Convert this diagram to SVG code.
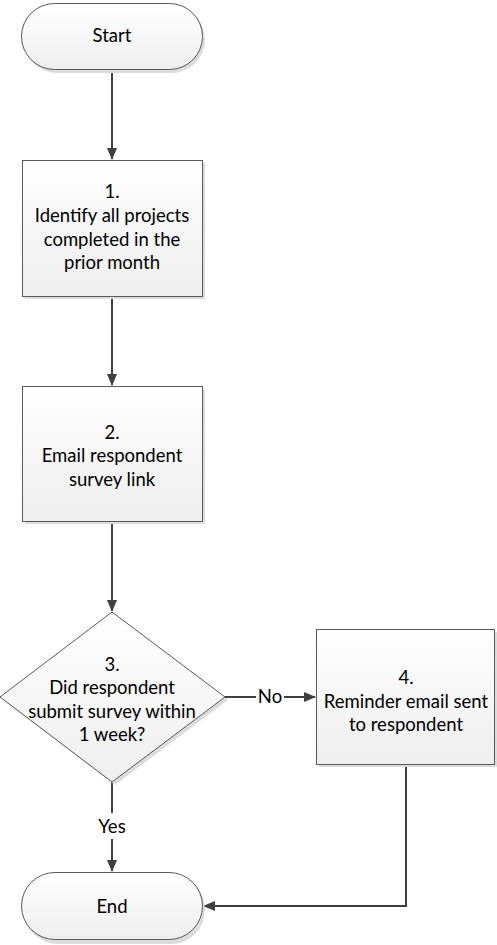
<svg xmlns="http://www.w3.org/2000/svg" width="497" height="945" viewBox="0 0 497 945">
<style>
.shape{fill:url(#g);stroke:#595959;stroke-width:1}
.shadow{fill:#dcdcdc;stroke:none}
.t{font-family:Lato,"Liberation Sans",sans-serif;font-size:18.5px;fill:#000;text-anchor:middle}
.c{fill:none;stroke:#404040;stroke-width:2}
</style>
<defs>
<linearGradient id="g" x1="0" y1="0" x2="0" y2="1">
<stop offset="0" stop-color="#ffffff"/>
<stop offset="1" stop-color="#eeeeee"/>
</linearGradient>
<marker id="a" markerWidth="12" markerHeight="10" refX="11" refY="5" orient="auto" markerUnits="userSpaceOnUse">
<path d="M0,0 L12,5 L0,10 Z" fill="#404040"/>
</marker>
</defs>
<g id="connectors">
<path class="c" d="M112,70 V159" marker-end="url(#a)"/>
<path class="c" d="M112,296 V385" marker-end="url(#a)"/>
<path class="c" d="M112,521 V611" marker-end="url(#a)"/>
<path class="c" d="M225,697 H256"/>
<path class="c" d="M284,697 H315" marker-end="url(#a)"/>
<text class="t" x="270" y="703">No</text>
<path class="c" d="M112,782 V813"/>
<path class="c" d="M112,839 V871" marker-end="url(#a)"/>
<text class="t" x="112" y="833">Yes</text>
<path class="c" d="M406,764 V906 H204" marker-end="url(#a)"/>
</g>
<g id="start">
<rect class="shadow" x="24" y="6" width="181" height="67" rx="33.5"/>
<rect class="shape" x="21.5" y="3.5" width="181" height="66" rx="33"/>
<text class="t" x="112" y="42">Start</text>
</g>
<g id="step1">
<rect class="shadow" x="25" y="163" width="180" height="136"/>
<rect class="shape" x="22.5" y="160.5" width="180" height="136"/>
<text class="t" x="112" y="198">1.</text>
<text class="t" x="112" y="222">Identify all projects</text>
<text class="t" x="112" y="246">completed in the</text>
<text class="t" x="112" y="269">prior month</text>
</g>
<g id="step2">
<rect class="shadow" x="25" y="389" width="180" height="135"/>
<rect class="shape" x="22.5" y="386.5" width="180" height="135"/>
<text class="t" x="112" y="439">2.</text>
<text class="t" x="112" y="462">Email respondent</text>
<text class="t" x="112" y="486">survey link</text>
</g>
<g id="step3">
<path class="shadow" d="M115,615 L228,700 L115,785 L3,700 Z"/>
<path class="shape" d="M112,612 L225,697 L112,782 L0,697 Z"/>
<text class="t" x="112" y="671">3.</text>
<text class="t" x="112" y="694">Did respondent</text>
<text class="t" x="112" y="718">submit survey within</text>
<text class="t" x="112" y="741">1 week?</text>
</g>
<g id="step4">
<rect class="shadow" x="319" y="632" width="178" height="135"/>
<rect class="shape" x="316.5" y="629.5" width="178" height="135"/>
<text class="t" x="406" y="684">4.</text>
<text class="t" x="406" y="708">Reminder email sent</text>
<text class="t" x="406" y="731">to respondent</text>
</g>
<g id="end">
<rect class="shadow" x="24" y="875" width="181" height="69" rx="34"/>
<rect class="shape" x="21.5" y="872.5" width="181" height="67" rx="33.5"/>
<text class="t" x="112" y="913">End</text>
</g>
</svg>
